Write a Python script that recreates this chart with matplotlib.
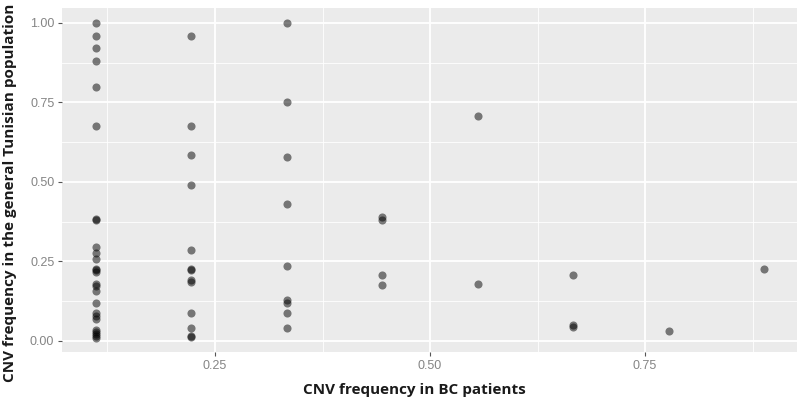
import matplotlib
matplotlib.use("Agg")
import matplotlib.pyplot as plt
import numpy as np

# CNV frequency in BC patients (in ninths) and in the general population
bc_ninths = ([1] * 26) + ([2] * 13) + ([3] * 9) + ([4] * 4) + ([5] * 2) + ([6] * 3) + [7] + [8]
pop_freq = [
    # x = 1/9
    1.00, 0.96, 0.92, 0.88, 0.80, 0.676, 0.383, 0.380, 0.297, 0.276, 0.257,
    0.226, 0.222, 0.216, 0.178, 0.172, 0.158, 0.120, 0.089, 0.080, 0.068,
    0.035, 0.028, 0.022, 0.016, 0.010,
    # x = 2/9
    0.96, 0.676, 0.584, 0.491, 0.285, 0.226, 0.222, 0.191, 0.187, 0.089,
    0.042, 0.015, 0.012,
    # x = 3/9
    1.00, 0.75, 0.579, 0.432, 0.236, 0.129, 0.120, 0.089, 0.042,
    # x = 4/9
    0.391, 0.382, 0.207, 0.177,
    # x = 5/9
    0.706, 0.178,
    # x = 6/9
    0.207, 0.050, 0.045,
    # x = 7/9
    0.030,
    # x = 8/9
    0.226,
]
x_ticks = [0.25, 0.50, 0.75]
x_tick_labels = ["0.25", "0.50", "0.75"]
y_ticks = [0.00, 0.25, 0.50, 0.75, 1.00]
y_tick_labels = ["0.00", "0.25", "0.50", "0.75", "1.00"]
x_title = "CNV frequency in BC patients"
y_title = "CNV frequency in the general Tunisian population"

bc_freq = np.array(bc_ninths) / 9.0

fig = plt.figure(figsize=(8.0, 3.99), dpi=100)
ax = fig.add_axes([62 / 800, 1 - 352 / 399, (797 - 62) / 800, (352 - 8) / 399])
ax.set_facecolor("#EBEBEB")
for s in ax.spines.values():
    s.set_visible(False)

ax.set_xlim(0.0721, 0.9267)
ax.set_ylim(-0.0346, 1.047)

ax.set_xticks(x_ticks)
ax.set_xticklabels(x_tick_labels)
ax.set_yticks(y_ticks)
ax.set_yticklabels(y_tick_labels)
ax.set_xticks([0.125, 0.375, 0.625, 0.875], minor=True)
ax.set_yticks([0.125, 0.375, 0.625, 0.875], minor=True)

ax.grid(which="major", color="white", linewidth=1.3)
ax.grid(which="minor", color="white", linewidth=0.6)
ax.set_axisbelow(True)

ax.tick_params(axis="both", which="major", length=3, width=0.8, color="#555555",
               labelsize=9, labelcolor="#858585", pad=2.5)
ax.tick_params(axis="both", which="minor", length=0)
for lab in ax.get_xticklabels() + ax.get_yticklabels():
    lab.set_family("Liberation Sans")

ax.scatter(bc_freq, pop_freq, s=34, color="black", alpha=0.5, linewidths=0, zorder=3)

ax.set_xlabel(x_title, fontsize=11, fontweight="bold", family="Open Sans", color="#1a1a1a", labelpad=8)
ax.set_ylabel(y_title, fontsize=11, fontweight="bold", family="Open Sans", color="#1a1a1a", labelpad=9)
ax.xaxis.label.set_x(0.48)
ax.yaxis.label.set_y(0.462)

fig.savefig("out.png", dpi=100, facecolor="white")
